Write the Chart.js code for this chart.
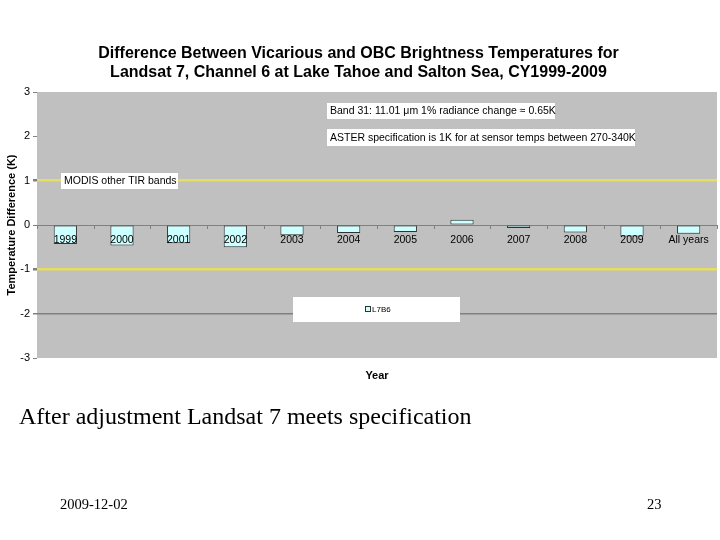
<!DOCTYPE html>
<html><head><meta charset="utf-8">
<script src="https://cdn.jsdelivr.net/npm/chart.js@4/dist/chart.umd.min.js"></script>
<style>
html,body{margin:0;padding:0;background:#fff}
body{width:720px;height:540px;overflow:hidden;position:relative;font-family:"Liberation Serif","Times New Roman",serif}
#c{position:absolute;left:0;top:0}
.t{position:absolute;white-space:nowrap;color:#000;line-height:1}
</style></head><body>
<canvas id="c" width="720" height="540"></canvas>
<div class="t" style="left:19px;top:404px;font-size:24px">After adjustment Landsat 7 meets specification</div>
<div class="t" style="left:60px;top:497px;font-size:14.5px">2009-12-02</div>
<div class="t" style="left:647px;top:497px;font-size:14.5px">23</div>
<script>
const categories = ['1999','2000','2001','2002','2003','2004','2005','2006','2007','2008','2009','All years'];
const diffValues = [-0.43,-0.46,-0.41,-0.50,-0.23,-0.18,-0.16,0.12,-0.07,-0.17,-0.26,-0.20];
const seriesName = 'L7B6';
const yMin = -3, yMax = 3, yStep = 1;
const specLines = [1, -1];
const greyLines = [0, -2];
const noteBand = 'Band 31: 11.01 \u03bcm 1% radiance change \u2248 0.65K';
const noteAster = 'ASTER specification is 1K for at sensor temps between 270-340K';
const noteModis = 'MODIS other TIR bands';
const titleLines = ['Difference Between Vicarious and OBC Brightness Temperatures for','Landsat 7, Channel 6 at Lake Tahoe and Salton Sea, CY1999-2009'];

const SANS = '"Liberation Sans", Arial, sans-serif';
Chart.defaults.font.family = SANS;
Chart.defaults.color = '#000';

const slidePlugin = {
  id: 'slide',
  beforeDraw(chart) {
    const {ctx, chartArea: a} = chart;
    ctx.save();
    ctx.fillStyle = '#C0C0C0';
    ctx.fillRect(a.left, a.top, a.right - a.left, a.bottom - a.top);
    ctx.restore();
  },
  afterDatasetsDraw(chart) {
    const {ctx} = chart;
    const xs = chart.scales.x, ys = chart.scales.y;
    const y0 = ys.getPixelForValue(0);
    ctx.save();
    ctx.strokeStyle = '#808080';
    ctx.lineWidth = 1;
    const n = categories.length;
    const step = (xs.right - xs.left) / n;
    for (let i = 0; i <= n; i++) {
      const x = Math.round(xs.left + i * step) + 0.5;
      ctx.beginPath(); ctx.moveTo(x, y0); ctx.lineTo(x, y0 + 4); ctx.stroke();
    }
    ctx.fillStyle = '#000';
    ctx.font = '10.5px ' + SANS;
    ctx.textAlign = 'center';
    ctx.textBaseline = 'middle';
    categories.forEach((c, i) => {
      ctx.fillText(c, xs.getPixelForValue(i), y0 + 15);
    });
    ctx.restore();
  },
  afterDraw(chart) {
    const {ctx} = chart;
    ctx.save();
    ctx.font = '10.5px ' + SANS;
    ctx.textBaseline = 'middle';
    ctx.textAlign = 'left';
    const box = (x, y, w, h, text) => {
      ctx.fillStyle = '#fff';
      ctx.fillRect(x, y, w, h);
      ctx.fillStyle = '#000';
      ctx.fillText(text, x + 3, y + h / 2 + 0.5);
    };
    box(327, 103, 228, 16, noteBand);
    box(327, 129, 308, 17, noteAster);
    box(61, 173, 117, 16, noteModis);
    ctx.fillStyle = '#fff';
    ctx.fillRect(293, 297, 167, 25);
    ctx.fillStyle = '#CCFFFF';
    ctx.fillRect(365.5, 306.5, 5, 5);
    ctx.strokeStyle = '#333';
    ctx.lineWidth = 1;
    ctx.strokeRect(365.5, 306.5, 5, 5);
    ctx.fillStyle = '#000';
    ctx.font = '8px ' + SANS;
    ctx.fillText(seriesName, 372, 309.5);
    ctx.restore();
  }
};

new Chart(document.getElementById('c'), {
  type: 'bar',
  data: {
    labels: categories,
    datasets: [{
      label: seriesName,
      data: diffValues,
      backgroundColor: '#CCFFFF',
      borderColor: '#333333',
      borderWidth: 1,
      borderSkipped: false,
      barPercentage: 0.41,
      categoryPercentage: 1.0
    }]
  },
  options: {
    responsive: false,
    animation: false,
    layout: {padding: {top: 44, left: 0, right: 3, bottom: 152}},
    plugins: {
      legend: {display: false},
      tooltip: {enabled: false},
      title: {
        display: true,
        text: titleLines,
        color: '#000',
        font: {size: 16, weight: 'bold', family: SANS, lineHeight: 1.2},
        padding: {top: 0, bottom: 9.6}
      }
    },
    scales: {
      x: {
        type: 'category',
        offset: true,
        grid: {display: false},
        border: {display: false},
        ticks: {display: false},
        title: {display: true, text: 'Year', font: {size: 11, weight: 'bold'}, padding: {top: 0, bottom: 5}},
        afterFit(s) { s.height = 30; }
      },
      y: {
        min: yMin, max: yMax,
        ticks: {stepSize: yStep, font: {size: 11}, color: '#000', padding: 3},
        border: {display: false},
        grid: {
          drawTicks: true,
          tickLength: 4,
          tickColor: '#808080',
          color: (c) => {
            const v = c.tick && c.tick.value;
            if (specLines.includes(v)) return '#E6DE5C';
            if (greyLines.includes(v)) return '#808080';
            return 'rgba(0,0,0,0)';
          },
          lineWidth: (c) => {
            const v = c.tick && c.tick.value;
            if (specLines.includes(v)) return 2.5;
            if (v === -2) return 1.5;
            return 1;
          }
        },
        title: {display: true, text: 'Temperature Difference (K)', font: {size: 11, weight: 'bold'}, padding: {top: 5, bottom: 0}},
        afterFit(s) { s.width = 37; }
      }
    }
  },
  plugins: [slidePlugin]
});
</script>
</body></html>
